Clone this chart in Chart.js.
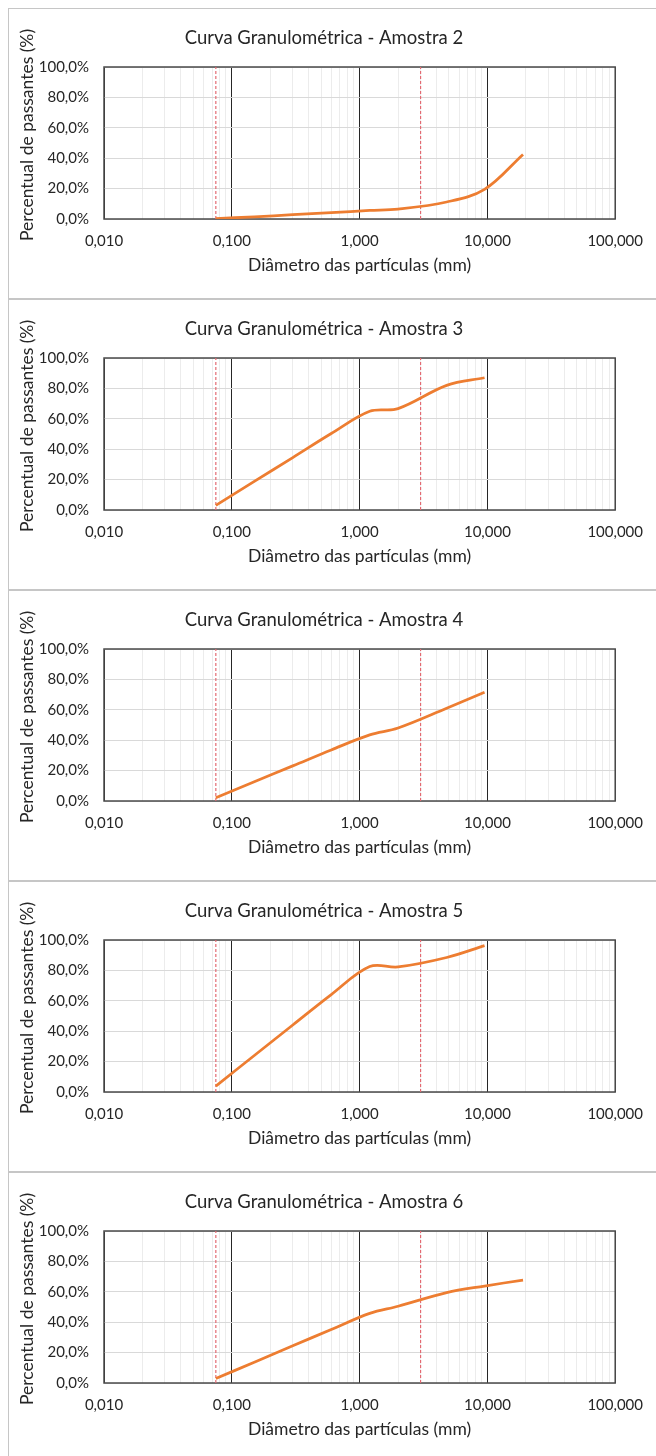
<!DOCTYPE html>
<html>
<head>
    <meta charset="utf-8">
    <title>Curvas Granulométricas</title>
    <script src="https://cdn.jsdelivr.net/npm/chart.js@4.4.1/dist/chart.umd.min.js"></script>
    <style>
        body { margin: 0; background: #fff; }
        #wrap { position: absolute; left: 8px; top: 8px; width: 700px; }
        .panel { box-sizing: border-box; height: 291px; border: 1px solid #c6c6c6; border-right: none; }
        .panel canvas { display: block; }
    </style>
</head>
<body>
    <div id="wrap"></div>

    <script>
        // peneiras (mm) e percentuais passantes
        const peneiras = [0.075, 0.15, 0.3, 0.6, 1.2, 2.0, 4.8, 9.5, 19.0];
        const amostras = ['Amostra 2', 'Amostra 3', 'Amostra 4', 'Amostra 5', 'Amostra 6'];
        const passante2 = [0.3, 1.4, 2.8, 4.2, 5.6, 6.5, 11.2, 19.5, 42.5];
        const passante3 = [3.0, 18.8, 34.5, 50.3, 65.0, 66.7, 82.0, 87.0];
        const passante4 = [2.2, 12.7, 23.1, 33.6, 43.5, 48.0, 61.0, 71.5];
        const passante5 = [3.9, 24.0, 44.1, 64.1, 82.5, 82.3, 88.5, 96.3];
        const passante6 = [2.9, 13.7, 24.5, 35.2, 45.8, 50.5, 59.5, 63.8, 67.7];
        const series = [passante2, passante3, passante4, passante5, passante6];

        // linhas verticais tracejadas (mm)
        const limites = [0.075, 3.0];
        const ticksY = [0, 20, 40, 60, 80, 100];
        const xMin = 0.01, xMax = 100;

        const FONT = 'Lato';
        const TEXT = '#262626';
        const Y_TITLE = 'Percentual de passantes (%)';

        function isDecade(v) {
            const l = Math.log10(v);
            return Math.abs(l - Math.round(l)) < 1e-9;
        }

        function logTicks() {
            const out = [];
            for (let e = -2; e < 2; e++) {
                for (let m = 1; m < 10; m++) out.push({ value: m * Math.pow(10, e) });
            }
            out.push({ value: xMax });
            return out;
        }

        // moldura da área de plotagem
        const frame = {
            id: 'frame',
            beforeDatasetsDraw(chart) {
                const a = chart.chartArea, c = chart.ctx;
                c.save();
                c.strokeStyle = '#4a4a4a';
                c.lineWidth = 1.5;
                c.strokeRect(a.left, a.top, a.right - a.left, a.bottom - a.top);
                c.restore();
            }
        };

        // título do eixo Y (um pouco acima do centro, como no Excel)
        const yTitle = {
            id: 'yTitle',
            afterDraw(chart) {
                const c = chart.ctx;
                c.save();
                c.translate(18, 126);
                c.rotate(-Math.PI / 2);
                c.font = '17.5px ' + FONT;
                c.fillStyle = TEXT;
                c.textAlign = 'center';
                c.textBaseline = 'middle';
                c.fillText(Y_TITLE, 0, 0);
                c.restore();
            }
        };

        const wrap = document.getElementById('wrap');

        series.forEach((vals, i) => {
            const panel = document.createElement('div');
            panel.className = 'panel';
            const cv = document.createElement('canvas');
            cv.width = 647;
            cv.height = 289;
            panel.appendChild(cv);
            wrap.appendChild(panel);

            const curva = vals.map((v, k) => ({ x: peneiras[k], y: v }));
            const datasets = [{
                data: curva,
                borderColor: '#ED7D31',
                borderWidth: 2.75,
                pointRadius: 0,
                tension: 0.35,
                fill: false
            }];
            limites.forEach(d => {
                datasets.push({
                    data: [{ x: d, y: 0 }, { x: d, y: 100 }],
                    borderColor: '#e36a72',
                    borderWidth: 1.2,
                    borderDash: [3, 2],
                    pointRadius: 0,
                    fill: false
                });
            });

            new Chart(cv, {
                type: 'line',
                data: { datasets },
                plugins: [frame, yTitle],
                options: {
                    responsive: false,
                    animation: false,
                    devicePixelRatio: 1,
                    layout: { padding: { left: 20, right: 37, top: 0, bottom: 0 } },
                    plugins: {
                        legend: { display: false },
                        tooltip: { enabled: false },
                        title: {
                            display: true,
                            text: 'Curva Granulométrica - ' + amostras[i],
                            color: TEXT,
                            font: { family: FONT, size: 18.5, weight: 'normal' },
                            padding: { top: 18, bottom: 17.8 }
                        }
                    },
                    scales: {
                        x: {
                            type: 'logarithmic',
                            min: xMin,
                            max: xMax,
                            afterBuildTicks: s => { s.ticks = logTicks(); },
                            afterFit: s => { s.height = 79; },
                            border: { display: false },
                            grid: {
                                drawTicks: false,
                                color: ctx => (ctx.tick && isDecade(ctx.tick.value)) ? '#262626' : '#ececec',
                                lineWidth: 1
                            },
                            ticks: {
                                autoSkip: false,
                                maxRotation: 0,
                                padding: 13,
                                color: TEXT,
                                font: { family: FONT, size: 15 },
                                callback: v => isDecade(v) ? v.toFixed(3).replace('.', ',') : ''
                            },
                            title: {
                                display: true,
                                text: 'Diâmetro das partículas (mm)',
                                color: TEXT,
                                font: { family: FONT, size: 17.5 },
                                padding: { top: 0, bottom: 22 }
                            }
                        },
                        y: {
                            min: 0,
                            max: 100,
                            afterBuildTicks: s => { s.ticks = ticksY.map(v => ({ value: v })); },
                            afterFit: s => { s.width = 75; },
                            border: { display: false },
                            grid: { drawTicks: false, color: '#d9d9d9', lineWidth: 1 },
                            ticks: {
                                padding: 15,
                                color: TEXT,
                                font: { family: FONT, size: 15 },
                                callback: v => v.toFixed(1).replace('.', ',') + '%'
                            }
                        }
                    }
                }
            });
        });
    </script>
</body>
</html>
